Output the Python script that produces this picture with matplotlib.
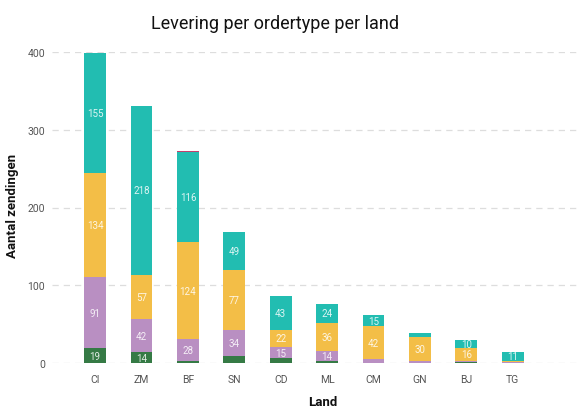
import numpy as np
import matplotlib.pyplot as plt

plt.rcParams['font.family'] = ['Roboto', 'DejaVu Sans']

# data per land (stacked bottom -> top)
landen = ['CI', 'ZM', 'BF', 'SN', 'CD', 'ML', 'CM', 'GN', 'BJ', 'TG']
groen = [19, 14, 3, 9, 6, 2, 0, 0, 1, 0]
paars = [91, 42, 28, 34, 15, 14, 5, 3, 2, 1]
geel = [134, 57, 124, 77, 22, 36, 42, 30, 16, 2]
turquoise = [155, 218, 116, 49, 43, 24, 15, 6, 10, 11]
roze = [0, 0, 2, 0, 0, 0, 0, 0, 0, 0]

series = [groen, paars, geel, turquoise, roze]
kleuren = ['#357A45', '#B98FC2', '#F3BE47', '#22BDB1', '#C2406E']

fig = plt.figure(figsize=(5.84, 4.10), dpi=100)
ax = fig.add_axes([52 / 584, 46 / 410, 528 / 584, 311 / 410])

x = np.arange(len(landen))
bottom = np.zeros(len(landen))
for waarden, kleur in zip(series, kleuren):
    waarden = np.array(waarden, dtype=float)
    ax.bar(x, waarden, width=0.47, bottom=bottom, color=kleur, zorder=3)
    for xi, b, v in zip(x, bottom, waarden):
        if v >= 10:
            ax.text(xi, b + v / 2, str(int(v)), ha='center', va='center',
                    fontsize=7, color='white', alpha=0.85, zorder=4)
    bottom += waarden

ax.set_xlim(-0.93, 10.45)
ax.set_ylim(0, 400)
ax.set_yticks([0, 100, 200, 300, 400])
ax.set_xticks(x)
ax.set_xticklabels(landen)
ax.tick_params(axis='both', length=0, labelsize=7.5, colors='#555555')
ax.tick_params(axis='y', pad=5)
ax.tick_params(axis='x', pad=8)
ax.grid(axis='y', color='#DDDDDD', linestyle=(0, (5, 4)), linewidth=0.9, zorder=0)
ax.set_axisbelow(True)
for s in ax.spines.values():
    s.set_visible(False)

# axis titles placed in figure pixels
fig.text(13 / 584, 1 - 206 / 410, 'Aantal zendingen', rotation=90, ha='center', va='center',
         fontsize=9.5, fontweight='bold', color='#111111')
fig.text(323 / 584, 1 - 403 / 410, 'Land', ha='center', va='center',
         fontsize=9.5, fontweight='bold', color='#111111')
fig.text(275 / 584, 1 - 24 / 410, 'Levering per ordertype per land', ha='center', va='center',
         fontsize=13, color='#111111')

fig.savefig('out.png', dpi=100)
